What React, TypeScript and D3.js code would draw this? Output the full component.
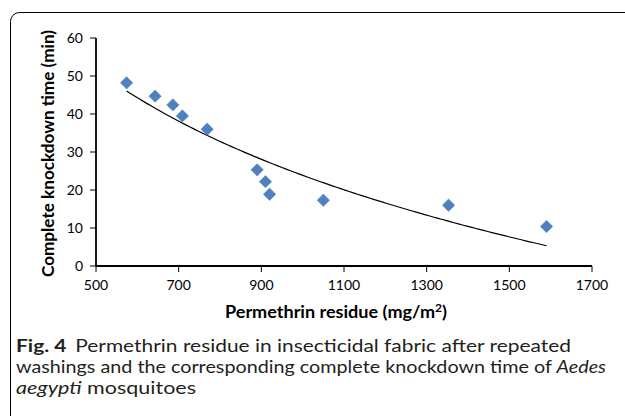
import React from "react";
import * as d3 from "d3";

const residue = [574, 643, 686, 709, 769, 890, 910, 920, 1050, 1353, 1590];
const knockdown = [48.2, 44.7, 42.4, 39.5, 36.0, 25.3, 22.2, 18.9, 17.3, 16.0, 10.4];
const xTicks = [500, 700, 900, 1100, 1300, 1500, 1700];
const yTicks = [0, 10, 20, 30, 40, 50, 60];

const W = 625;
const H = 416;
const M = { left: 96, right: 592, top: 38, bottom: 266 };

function logFit(xs: number[], ys: number[]) {
  const lx = xs.map((v) => Math.log(v));
  const mx = d3.mean(lx) as number;
  const my = d3.mean(ys) as number;
  let sxy = 0;
  let sxx = 0;
  lx.forEach((v, i) => {
    sxy += (v - mx) * (ys[i] - my);
    sxx += (v - mx) * (v - mx);
  });
  const b = sxy / sxx;
  const a = my - b * mx;
  return (x: number) => a + b * Math.log(x);
}

export default function App() {
  const x = d3.scaleLinear().domain([500, 1700]).range([M.left, M.right]);
  const y = d3.scaleLinear().domain([0, 60]).range([M.bottom, M.top]);
  const f = logFit(residue, knockdown);
  const [xmin, xmax] = d3.extent(residue) as [number, number];
  const samples = d3.range(0, 101).map((i) => xmin + ((xmax - xmin) * i) / 100);
  const line = d3
    .line<number>()
    .x((d) => x(d))
    .y((d) => y(f(d)));
  const chartFont = "Lato, 'Open Sans', sans-serif";
  const capFont = "Lato, 'Open Sans', sans-serif";
  const ds = 6.2;

  return (
    <div style={{ position: "absolute", left: 0, top: 0, width: W, height: H }}>
      <svg width={W} height={H} style={{ display: "block", background: "#fff" }}>
        <rect x={10.5} y={12.5} width={700} height={500} rx={9} ry={9} fill="none" stroke="#000" strokeWidth={1} />
        {/* axes */}
        <line x1={M.left} x2={M.left} y1={M.top} y2={M.bottom} stroke="#000" strokeWidth={1.8} />
        <line x1={M.left} x2={M.right} y1={M.bottom} y2={M.bottom} stroke="#000" strokeWidth={1.8} />
        {yTicks.map((t) => (
          <g key={"y" + t}>
            <line x1={M.left - 6} x2={M.left} y1={y(t)} y2={y(t)} stroke="#000" strokeWidth={1} />
            <text x={M.left - 13} y={y(t)} dy="0.36em" textAnchor="end" fontFamily={chartFont} fontSize={14} fill="#000">
              {t}
            </text>
          </g>
        ))}
        {xTicks.map((t) => (
          <g key={"x" + t}>
            <line x1={x(t)} x2={x(t)} y1={M.bottom} y2={M.bottom + 6} stroke="#000" strokeWidth={1} />
            <text x={x(t)} y={290} textAnchor="middle" fontFamily={chartFont} fontSize={14} fill="#000">
              {t}
            </text>
          </g>
        ))}
        {/* axis titles */}
        <text
          transform={`translate(48,153.5) rotate(-90)`}
          x={-123.5}
          dy="0.35em"
          textLength={247}
          lengthAdjust="spacingAndGlyphs"
          fontFamily={chartFont}
          fontWeight="bold"
          fontSize={17}
          fill="#000"
        >
          Complete knockdown time (min)
        </text>
        <text
          x={225}
          y={318}
          textLength={222}
          lengthAdjust="spacingAndGlyphs"
          fontFamily={chartFont}
          fontWeight="bold"
          fontSize={16.5}
          fill="#000"
        >
          Permethrin residue (mg/m<tspan dy={-6} fontSize={11}>2</tspan>
          <tspan dy={6}>)</tspan>
        </text>
        {/* trend line */}
        <path d={line(samples) || ""} fill="none" stroke="#000" strokeWidth={1.2} />
        {/* points */}
        {residue.map((v, i) => {
          const cx = x(v);
          const cy = y(knockdown[i]);
          return (
            <path
              key={i}
              d={`M${cx},${cy - ds}L${cx + ds},${cy}L${cx},${cy + ds}L${cx - ds},${cy}Z`}
              fill="#4F81BD"
              stroke="#4A7EBB"
              strokeWidth={0.5}
            />
          );
        })}
        {/* caption */}
        <text x={16} y={352} textLength={555} lengthAdjust="spacingAndGlyphs" fontFamily={capFont} fontSize={16.5} fill="#231f20">
          <tspan fontWeight="bold">Fig. 4</tspan>
          <tspan dx={7}>Permethrin residue in insecticidal fabric after repeated</tspan>
        </text>
        <text x={16} y={373} textLength={590} lengthAdjust="spacingAndGlyphs" fontFamily={capFont} fontSize={16.5} fill="#231f20">
          washings and the corresponding complete knockdown time of <tspan fontStyle="italic">Aedes</tspan>
        </text>
        <text x={16} y={394} textLength={180} lengthAdjust="spacingAndGlyphs" fontFamily={capFont} fontSize={16.5} fill="#231f20">
          <tspan fontStyle="italic">aegypti</tspan> mosquitoes
        </text>
      </svg>
    </div>
  );
}
